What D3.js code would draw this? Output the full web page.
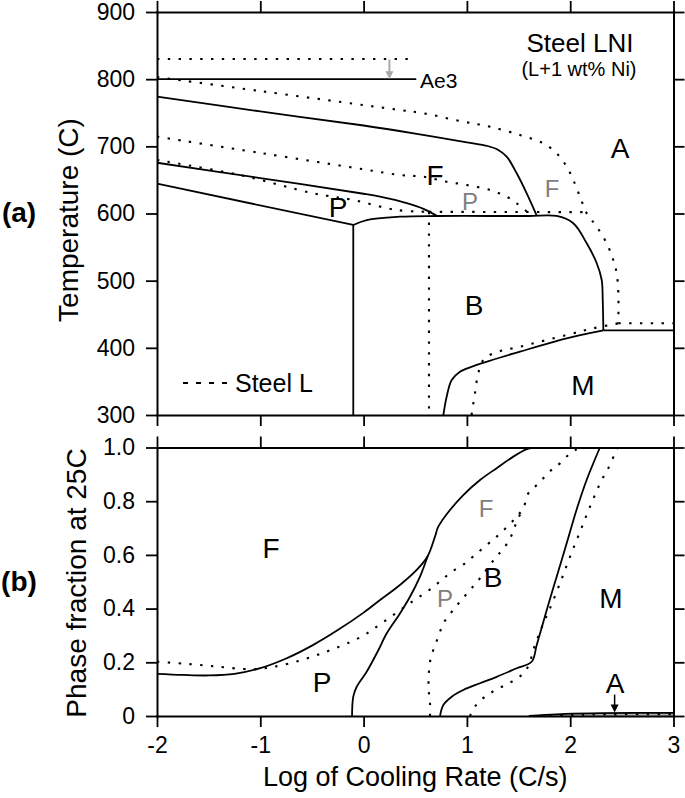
<!DOCTYPE html>
<html><head><meta charset="utf-8">
<script src="https://cdn.jsdelivr.net/npm/d3@7"></script>
<style>
body{margin:0;background:#fff;}
text{font-family:"Liberation Sans",Arial,Helvetica,sans-serif;}
</style></head><body>
<svg id="chart" width="685" height="798"></svg>
<script>
// ---------- tick values ----------
const xTicks = [-2,-1,0,1,2,3];
const tempTicks = [300,400,500,600,700,800,900];
const fracTicks = [0,0.2,0.4,0.6,0.8,1.0];

// ---------- (a) CCT diagram, Steel LNI (solid) ----------
const lniAe3 = [[-2,800],[0.51,800]];
const lniFStart = [[-2,774],[-1,752],[0,731],[0.5,719],[1.0,706],[1.2,700.5],[1.3,695],[1.385,684.6],[1.482,659.9],[1.579,630.1],[1.676,597]];
const lniPStart = [[-2,675.6],[-1,652.8],[0,629.4],[0.159,625],[0.417,615.5],[0.58,607],[0.71,596.5]];
const lniPFinish = [[-2,644.4],[-0.1,582.9]];
const lniPBVert = [[-0.1,582.9],[-0.1,300]];
const lniBStart = [[-0.1,582.9],[0.03,590.3],[0.35,595.2],[0.71,596.3],[1.2,596.3],[1.6,596.3],[1.869,596.3],[2.03,585.4],[2.16,555.6],[2.257,525.9],[2.305,501],[2.315,471.2],[2.321,426]];
const lniMHigh = [[2.321,426],[3,426]];
const lniMStart = [[0.772,300],[0.804,327.3],[0.853,352.1],[0.933,364.5],[1.095,374.5],[1.514,394.3],[1.966,414.2],[2.321,426]];

// ---------- (a) Steel L (dotted) ----------
const lAe3 = [[-2,830],[0.48,830]];
const lFStart = [[-2,803.2],[-1,782.3],[0,761.4],[0.352,754],[0.578,749.2],[0.965,736.7],[1.224,729.2],[1.514,716.9],[1.740,704.5],[1.869,689.6],[1.966,669.7],[2.030,649.9],[2.095,625],[2.160,600.3],[2.257,580.4],[2.353,555.6],[2.417,530.8],[2.450,510.9],[2.466,481.2],[2.466,436.5]];
const lAHigh = [[2.466,436.5],[3,436.5]];
const lPStart = [[-2,714.4],[-1,690.2],[0,665.8],[0.352,657.3],[0.575,654.8],[0.804,647.3],[0.998,642.4],[1.224,635],[1.385,625],[1.482,615.2],[1.579,603]];
const lPFinish = [[-2,679.7],[-1.197,657.3],[-0.487,630.1],[-0.1,620.1],[0.32,605.2],[0.633,602.5]];
const lBStart = [[0.633,602.5],[2.14,602]];
const lPBVert = [[0.633,602.5],[0.633,300]];
const lMStart = [[1.045,300],[1.078,332.3],[1.110,362.1],[1.159,381.9],[1.256,391.9],[1.514,401.7],[1.966,419.1],[2.224,429.1],[2.466,436.5]];
const ae3Arrow = [[0.25,829],[0.25,800]];
const legendSample = [[-1.748,347.6],[-1.313,347.6]];

// ---------- (b) phase fractions, Steel LNI (solid) ----------
const lniFracF = [[-2,0.157],[-1.75,0.153],[-1.5,0.151],[-1.25,0.157],[-1,0.178],[-0.75,0.214],[-0.5,0.262],[-0.25,0.320],[0,0.385],[0.159,0.432],[0.352,0.488],[0.514,0.544],[0.62,0.595],[0.691,0.668],[0.723,0.705],[0.836,0.767],[0.965,0.823],[1.127,0.879],[1.288,0.923],[1.449,0.966],[1.579,0.994],[1.643,1.0]];
const lniFracPB = [[-0.112,0],[-0.100,0.072],[-0.067,0.109],[0.030,0.165],[0.14,0.243],[0.224,0.308],[0.352,0.382],[0.449,0.444],[0.546,0.519],[0.62,0.595]];
const lniFracBM = [[0.740,0],[0.772,0.041],[0.853,0.072],[0.965,0.097],[1.127,0.122],[1.288,0.146],[1.482,0.178],[1.627,0.202],[1.676,0.264],[1.773,0.395],[1.869,0.519],[1.966,0.643],[2.063,0.77],[2.16,0.88],[2.288,1.0]];
const lniFracA = [[1.6,0],[1.75,0.004],[1.95,0.008],[2.3,0.011],[3,0.012]];

// ---------- (b) Steel L (dotted) ----------
const lFracF = [[-2,0.202],[-1.71,0.194],[-1.42,0.184],[-1.16,0.175],[-1.03,0.175],[-0.87,0.183],[-0.61,0.207],[-0.357,0.240],[-0.132,0.275],[0.0,0.300],[0.094,0.324],[0.207,0.354],[0.320,0.385],[0.433,0.416],[0.540,0.444],[0.659,0.476],[0.756,0.507],[0.853,0.537],[0.982,0.569],[1.078,0.600],[1.192,0.637],[1.288,0.668],[1.385,0.703],[1.482,0.742],[1.546,0.774],[1.594,0.829],[1.659,0.854],[1.707,0.873],[1.773,0.898],[1.836,0.923],[1.901,0.941],[1.998,0.978],[2.063,0.993],[2.111,1.0]];
const lFracPB = [[0.643,0],[0.643,0.047],[0.630,0.097],[0.630,0.146],[0.643,0.202],[0.675,0.246],[0.723,0.295],[0.772,0.345],[0.853,0.388],[0.933,0.426],[1.030,0.469],[1.127,0.513],[1.272,0.587],[1.369,0.631],[1.434,0.674],[1.482,0.724],[1.546,0.774]];
const lFracBM = [[1.03,0],[1.078,0.035],[1.175,0.072],[1.288,0.099],[1.417,0.124],[1.530,0.153],[1.60,0.19],[1.643,0.246],[1.740,0.345],[1.804,0.401],[1.901,0.494],[1.998,0.593],[2.095,0.686],[2.192,0.780],[2.305,0.879],[2.369,0.923],[2.434,0.978],[2.46,1.0]];
const lFracA = [[1.8,0],[2.0,0.004],[2.4,0.006],[3,0.007]];
const aArrow = [[2.43,0.08],[2.43,0.013]];

// ---------- annotations (text, x, value) ----------
const topBlack = [["A",2.482,682.6],["F",0.691,642.4],["P",-0.248,594.8],["B",1.069,448.9],["M",2.124,329.8]];
const topGray = [["F",1.824,624.6],["P",1.03,605.2]];
const botBlack = [["F",-0.896,0.588],["P",-0.403,0.089],["B",1.253,0.480],["M",2.395,0.402],["A",2.434,0.086]];
const botGray = [["F",1.185,0.741],["P",0.788,0.406]];

// ---------- drawing ----------
const svg = d3.select("#chart");
svg.append("rect").attr("width",685).attr("height",798).attr("fill","#fff");

const x = d3.scaleLinear().domain([-2,3]).range([157,673.5]);
const yT = d3.scaleLinear().domain([300,900]).range([415,12]);
const yB = d3.scaleLinear().domain([0,1]).range([716,447.5]);

const defs = svg.append("defs");
defs.append("clipPath").attr("id","clipT").append("rect")
  .attr("x",x(-2)).attr("y",yT(900)).attr("width",x(3)-x(-2)).attr("height",yT(300)-yT(900));
defs.append("clipPath").attr("id","clipB").append("rect")
  .attr("x",x(-2)).attr("y",yB(1)).attr("width",x(3)-x(-2)).attr("height",yB(0)-yB(1));

const gT = svg.append("g").attr("clip-path","url(#clipT)");
const gB = svg.append("g").attr("clip-path","url(#clipB)");

const curve = d3.curveCatmullRom.alpha(0.5);
function draw(g, ys, data, dotted, opts={}){
  const ln = d3.line().x(d=>x(d[0])).y(d=>ys(d[1])).curve(opts.linear ? d3.curveLinear : curve);
  g.append("path").attr("d",ln(data)).attr("fill","none")
    .attr("stroke",opts.color||"#000")
    .attr("stroke-width",dotted?2.1:1.8)
    .attr("stroke-dasharray",dotted?"2.4,8.4":null);
}

// bottom A region fill
gB.append("path").datum(lniFracA)
  .attr("d",d3.area().x(d=>x(d[0])).y0(yB(0)).y1(d=>yB(d[1])).curve(curve))
  .attr("fill","#b0b0b0");

// top panel lines
draw(gT,yT,lniAe3,false,{linear:true});
draw(gT,yT,lniFStart,false);
draw(gT,yT,lniPStart,false);
draw(gT,yT,lniPFinish,false,{linear:true});
draw(gT,yT,lniPBVert,false,{linear:true});
draw(gT,yT,lniBStart,false);
draw(gT,yT,lniMHigh,false,{linear:true});
draw(gT,yT,lniMStart,false);

draw(gT,yT,lAe3,true,{linear:true});
draw(gT,yT,lFStart,true);
draw(gT,yT,lAHigh,true,{linear:true});
draw(gT,yT,lPStart,true);
draw(gT,yT,lPFinish,true);
draw(gT,yT,lBStart,true,{linear:true});
draw(gT,yT,lPBVert,true,{linear:true});
draw(gT,yT,lMStart,true);

// arrows
function arrow(g, ys, pts, color, w){
  const x0=x(pts[0][0]), y0=ys(pts[0][1]), y1=ys(pts[1][1]);
  g.append("line").attr("x1",x0).attr("x2",x0).attr("y1",y0).attr("y2",y1-7)
    .attr("stroke",color).attr("stroke-width",w);
  g.append("path").attr("d",`M${x0-4},${y1-8}L${x0+4},${y1-8}L${x0},${y1}Z`).attr("fill",color);
}
arrow(svg,yT,ae3Arrow,"#a8a8a8",2);

// legend
svg.append("path").attr("d",d3.line().x(d=>x(d[0])).y(d=>yT(d[1]))(legendSample))
  .attr("stroke","#000").attr("stroke-width",2).attr("stroke-dasharray","5,8").attr("fill","none");
svg.append("text").attr("x",x(-1.245)).attr("y",yT(334.3)).attr("font-size",25).text("Steel L");

// bottom panel lines
draw(gB,yB,lniFracF,false);
draw(gB,yB,lniFracPB,false);
draw(gB,yB,lniFracBM,false);
draw(gB,yB,lniFracA,false);
draw(gB,yB,lFracF,true);
draw(gB,yB,lFracPB,true);
draw(gB,yB,lFracBM,true);
draw(gB,yB,lFracA,true);
arrow(svg,yB,aArrow,"#000",1.5);

// ---------- axes ----------
const fmtX = d=> d<0 ? "-"+Math.abs(d) : String(d);
const fmtF = d=> d===0 ? "0" : d.toFixed(1);
function styleAxis(g){
  g.select(".domain").attr("stroke-width",2).attr("stroke-linecap","square");
  g.selectAll(".tick line").attr("stroke-width",1.8);
  g.selectAll(".tick text").attr("font-size",23).attr("font-family",'"Liberation Sans",Arial,sans-serif').attr("fill","#000");
}
function addAxis(axis, tx, ty){
  const g = svg.append("g").attr("transform",`translate(${tx},${ty})`).call(axis);
  styleAxis(g); return g;
}
// top panel
addAxis(d3.axisLeft(yT).tickValues(tempTicks).tickSize(11).tickSizeOuter(0).tickPadding(11), x(-2), 0);
addAxis(d3.axisRight(yT).tickValues(tempTicks).tickSize(11).tickSizeOuter(0).tickFormat(""), x(3), 0);
addAxis(d3.axisTop(x).tickValues(xTicks).tickSize(11).tickSizeOuter(0).tickFormat(""), 0, yT(900));
addAxis(d3.axisBottom(x).tickValues(xTicks).tickSize(11).tickSizeOuter(0).tickFormat(""), 0, yT(300));
// bottom panel
addAxis(d3.axisLeft(yB).tickValues(fracTicks).tickSize(11).tickSizeOuter(0).tickPadding(11).tickFormat(fmtF), x(-2), 0);
addAxis(d3.axisRight(yB).tickValues(fracTicks).tickSize(11).tickSizeOuter(0).tickFormat(""), x(3), 0);
addAxis(d3.axisTop(x).tickValues(xTicks).tickSize(11).tickSizeOuter(0).tickFormat(""), 0, yB(1));
addAxis(d3.axisBottom(x).tickValues(xTicks).tickSize(11).tickSizeOuter(0).tickPadding(10).tickFormat(fmtX), 0, yB(0));

// ---------- titles ----------
svg.append("text").attr("x",(x(-2)+x(3))/2).attr("y",786).attr("text-anchor","middle")
  .attr("font-size",27).text("Log of Cooling Rate (C/s)");
svg.append("text").attr("transform",`translate(78,220) rotate(-90)`)
  .attr("text-anchor","middle").attr("font-size",28).text("Temperature (C)");
svg.append("text").attr("transform",`translate(86,583) rotate(-90)`)
  .attr("text-anchor","middle").attr("font-size",28).text("Phase fraction at 25C");
svg.append("text").attr("x",19).attr("y",222).attr("text-anchor","middle")
  .attr("font-size",28).attr("font-weight","bold").text("(a)");
svg.append("text").attr("x",19).attr("y",591).attr("text-anchor","middle")
  .attr("font-size",28).attr("font-weight","bold").text("(b)");

// ---------- annotations ----------
svg.append("text").attr("x",x(2.095)).attr("y",yT(840.4)).attr("text-anchor","middle").attr("font-size",26).text("Steel LNI");
svg.append("text").attr("x",x(2.085)).attr("y",yT(804)).attr("text-anchor","middle").attr("font-size",20).text("(L+1 wt% Ni)");
svg.append("text").attr("x",x(0.546)).attr("y",yT(787)).attr("font-size",21).text("Ae3");

function labels(arr, ys, size, color){
  arr.forEach(a=>{
    svg.append("text").attr("x",x(a[1])).attr("y",ys(a[2])).attr("text-anchor","middle")
      .attr("font-size",size).attr("fill",color).text(a[0]);
  });
}
labels(topBlack,yT,28,"#000");
labels(topGray,yT,24,"#808080");
labels(botBlack,yB,28,"#000");
labels(botGray,yB,24,"#808080");
</script>
</body></html>
